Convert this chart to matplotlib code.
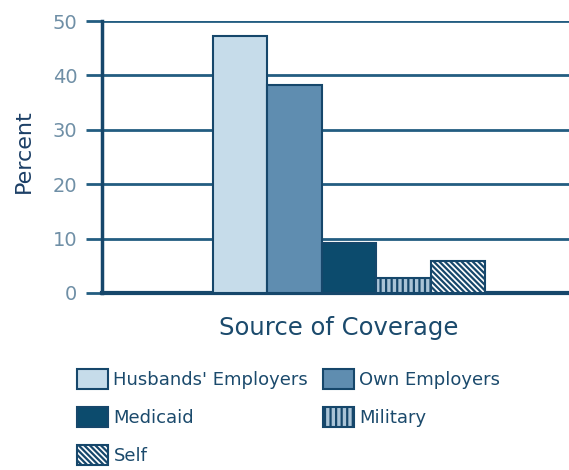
import matplotlib
matplotlib.use("Agg")
import matplotlib.pyplot as plt

# Health insurance coverage by source
sources = ["Husbands' Employers", "Own Employers", "Medicaid", "Military", "Self"]
percent = [47.2, 38.3, 9.2, 2.7, 5.8]
yticks = [0, 10, 20, 30, 40, 50]

fills = ["#c6dcea", "#5f8db0", "#0c4b6d", "#a9c3d6", "#ffffff"]
hatches = [None, None, None, "|||", "\\\\\\\\\\\\"]
edge = "#16476b"
grid_col = "#235d81"
text_col = "#1b4a6c"
tick_col = "#6f8fa6"

plt.rcParams["hatch.linewidth"] = 1.6

fig = plt.figure(figsize=(5.69, 4.70), dpi=100)
ax = fig.add_axes([101.7 / 569, 177 / 470, 1 - 101.7 / 569, 272 / 470])

xpos = list(range(len(sources)))
bars = []
for x, v, fc, h, lab in zip(xpos, percent, fills, hatches, sources):
    b = ax.bar(x, v, width=1.0, color=fc, edgecolor=edge, linewidth=1.5,
               hatch=h, label=lab, zorder=3)
    bars.append(b[0])

ax.set_xlim(-2.546, 6.04)
ax.set_ylim(0, 50)
ax.set_yticks(yticks)
ax.set_xticks([])

ax.yaxis.grid(True, color=grid_col, linewidth=2.0, zorder=0)
ax.set_axisbelow(True)
ax.tick_params(axis="y", direction="out", length=11.5, width=2.0, color=grid_col,
               pad=6, labelsize=14, labelcolor=tick_col)

for s in ("top", "right"):
    ax.spines[s].set_visible(False)
ax.spines["left"].set_color(edge)
ax.spines["left"].set_linewidth(2.5)
ax.spines["bottom"].set_color(edge)
ax.spines["bottom"].set_linewidth(3.0)

ax.set_ylabel("Percent", fontsize=16, color="#1c3f66")
ax.yaxis.set_label_coords(-68 / 467.3, 0.52)
fig.text(339 / 569, 1 - 328 / 470, "Source of Coverage", fontsize=17.5,
         color=text_col, ha="center", va="center")

order = [0, 2, 4, 1, 3]
leg = fig.legend([bars[i] for i in order], [sources[i] for i in order],
                 ncol=2, loc="upper left", bbox_to_anchor=(77 / 569, 1 - 369 / 470),
                 frameon=False, fontsize=13, handlelength=1.72, handleheight=1.33,
                 handletextpad=0.3, columnspacing=0.8, labelspacing=1.0,
                 borderpad=0, borderaxespad=0)
for t in leg.get_texts():
    t.set_color(text_col)

fig.savefig("out.png", dpi=100)
